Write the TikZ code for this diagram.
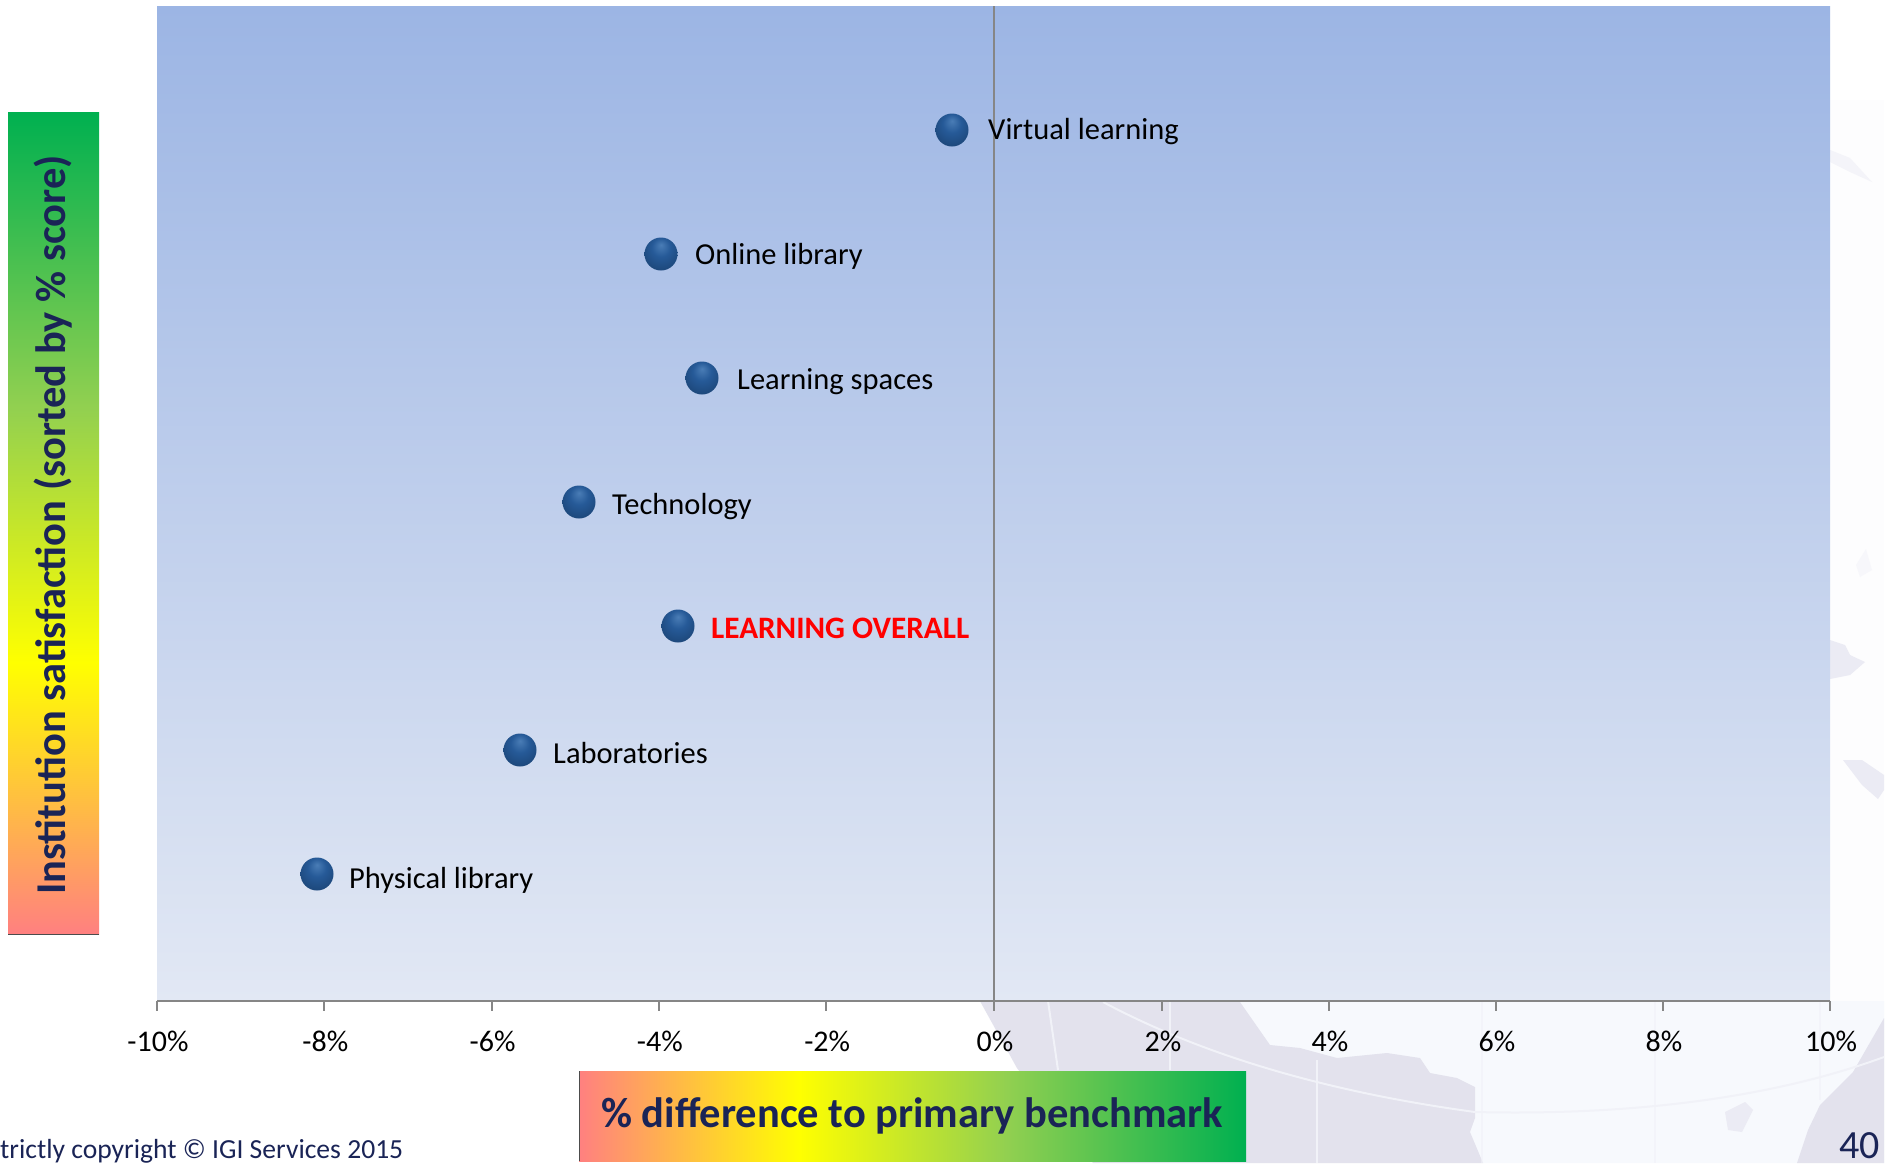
\documentclass[tikz,border=0pt]{standalone}
\usepackage{fontspec}
\setmainfont{Carlito}
\definecolor{navy}{HTML}{1A2456}
\definecolor{axisgrey}{HTML}{868686}
\definecolor{plottop}{HTML}{9CB5E4}
\definecolor{plotbot}{HTML}{E2E8F4}
\definecolor{globepale}{HTML}{F7F9FD}
\definecolor{land}{HTML}{E3E2ED}
\definecolor{landpale}{HTML}{EBEBF4}
\definecolor{gridpale}{HTML}{F1F2F8}
\definecolor{sredp}{HTML}{FF8080}
\definecolor{syel}{HTML}{FFFF00}
\definecolor{slime}{HTML}{92D050}
\definecolor{sgrn}{HTML}{00B050}
\definecolor{balla}{HTML}{4A7DB6}
\definecolor{ballb}{HTML}{265A98}
\definecolor{ballc}{HTML}{1C4678}
\pgfdeclarehorizontalshading{rygH}{100bp}{color(0bp)=(sredp); color(25bp)=(sredp); color(41.5bp)=(syel); color(57bp)=(slime); color(75bp)=(sgrn); color(100bp)=(sgrn)}
\pgfdeclareverticalshading{rygV}{100bp}{color(0bp)=(sredp); color(25bp)=(sredp); color(41.5bp)=(syel); color(57bp)=(slime); color(75bp)=(sgrn); color(100bp)=(sgrn)}
\pgfdeclareradialshading{sphereball}{\pgfpoint{0bp}{14bp}}{color(0bp)=(balla); color(14bp)=(ballb); color(32bp)=(ballc); color(50bp)=(ballc)}
\tikzset{
  pointball/.style={circle,inner sep=0pt,minimum size=33pt,shading=sphereball},
  pointlabel/.style={anchor=base west,inner sep=0pt,text=black,font=\fontsize{30.5}{36}\selectfont},
  overalllabel/.style={anchor=base west,inner sep=0pt,text=red,font=\fontsize{31.2}{36}\selectfont\bfseries},
  ticklabel/.style={anchor=base,inner sep=0pt,text=black,font=\fontsize{30}{34}\selectfont},
  axisline/.style={draw=axisgrey,line width=2pt},
  barlabel/.style={inner sep=0pt,text=navy,font=\fontsize{42.5}{48}\selectfont\bfseries},
  foot/.style={inner sep=0pt,text=navy,anchor=base west,text depth=0pt},
  gridline/.style={draw=gridpale,line width=2pt}
}
\begin{document}
\begin{tikzpicture}[x=1pt,y=-1pt]
\useasboundingbox (0,0) rectangle (1895,1163);
\clip (0,0) rectangle (1895,1163);
\fill[white] (0,0) rectangle (1895,1163);
% pale globe background
\fill[globepale] (980,1001) -- (1017,1068) -- (1093,1163) -- (1884,1163) -- (1884,1001) -- cycle;
\fill[globepale!30!white] (1830,100) rectangle (1884,1001);
% land masses
\fill[land] (980,1001) -- (1017,1068) -- (1093,1163) -- (1483,1163) -- (1470,1132) -- (1475,1118) -- (1475,1087) -- (1457,1078) -- (1430,1073) -- (1420,1058) -- (1387,1053) -- (1337,1058) -- (1300,1048) -- (1270,1045) -- (1240,1002) -- cycle;
\fill[land] (1884,1018) -- (1853,1072) -- (1820,1105) -- (1808,1130) -- (1797,1163) -- (1884,1163) -- cycle;
\fill[landpale] (1725,1112) -- (1745,1102) -- (1753,1110) -- (1742,1132) -- (1728,1130) -- cycle;
\fill[landpale] (1830,640) -- (1845,645) -- (1850,655) -- (1865,662) -- (1850,675) -- (1830,679) -- cycle;
\fill[landpale] (1843,760) -- (1862,760) -- (1884,775) -- (1884,790) -- (1878,799) -- (1862,785) -- cycle;
\fill[landpale!40!white] (1856,565) -- (1866,549) -- (1872,570) -- (1860,577) -- cycle;
\fill[landpale!55!white] (1830,150) -- (1850,158) -- (1872,182) -- (1850,172) -- (1830,162) -- cycle;
% graticule
\draw[gridline] (1103,1002) .. controls (1193,1050) and (1313,1090) .. (1475,1112) .. controls (1600,1115) and (1753,1105) .. (1884,1057);
\draw[gridline] (1048,1001) -- (1058,1070);
\draw[gridline] (1170,1001) -- (1170,1070);
\draw[gridline] (1317,1060) -- (1317,1163);
\draw[gridline,draw opacity=.6] (1482,1001) -- (1482,1163);
\draw[gridline,draw opacity=.6] (1655,1001) -- (1655,1163);
\draw[gridline,draw opacity=.6] (1820,1001) -- (1820,1100);
% plot area
\shade[top color=plottop,bottom color=plotbot] (157,6) rectangle (1830,1001);
% gradient bars
\shade[shading=rygV] (8,112) rectangle (99,934);
\draw[black!70,line width=1pt] (8,934) -- (99,934);
\shade[shading=rygH] (579,1071) rectangle (1246,1161);
\draw[black!70,line width=1pt] (579,1071) -- (579,1161);
% axes
\coordinate (zt) at (994,6);
\coordinate (zb) at (994,1001);
\coordinate (al) at (157,1001);
\coordinate (ar) at (1830,1001);
\draw[axisline] (zt) -- (zb);
\draw[axisline] (al) -- (ar);
\foreach \tx/\tl in {157/-10\%,324.3/-8\%,491.6/-6\%,658.9/-4\%,826.2/-2\%,994/0\%,1162/2\%,1329/4\%,1496/6\%,1663/8\%,1830/10\%}{
  \draw[axisline] (\tx,1001) -- (\tx,1011);
  \node[ticklabel] (t\tx) at (\tx+1,1051) {\tl};
}
% points
\node[pointball] (p1) at (952,130) {};
\node[pointlabel] (l1) at (988,139) {Virtual learning};
\node[pointball] (p2) at (661,254) {};
\node[pointlabel] (l2) at (695,264) {Online library};
\node[pointball] (p3) at (702,378) {};
\node[pointlabel] (l3) at (737,389) {Learning spaces};
\node[pointball] (p4) at (579,502) {};
\node[pointlabel] (l4) at (612,514) {Technology};
\node[pointball] (p5) at (678,626) {};
\node[overalllabel] (l5) at (711,638) {LEARNING OVERALL};
\node[pointball] (p6) at (520,750) {};
\node[pointlabel] (l6) at (553,763) {Laboratories};
\node[pointball] (p7) at (317,874) {};
\node[pointlabel] (l7) at (349,888) {Physical library};
% bar labels
\node[barlabel,anchor=base west,rotate=90] (ylab) at (65,895) {Institution satisfaction (sorted by \% score)};
\node[barlabel,anchor=base west] (xlab) at (601,1127) {\% difference to primary benchmark};
% footer
\node[foot,font=\fontsize{27.6}{30}\selectfont] (copy) at (0,1158) {trictly copyright © IGI Services 2015};
\node[foot,font=\fontsize{40}{46}\selectfont] (pg) at (1839,1158) {40};
\end{tikzpicture}
\end{document}
